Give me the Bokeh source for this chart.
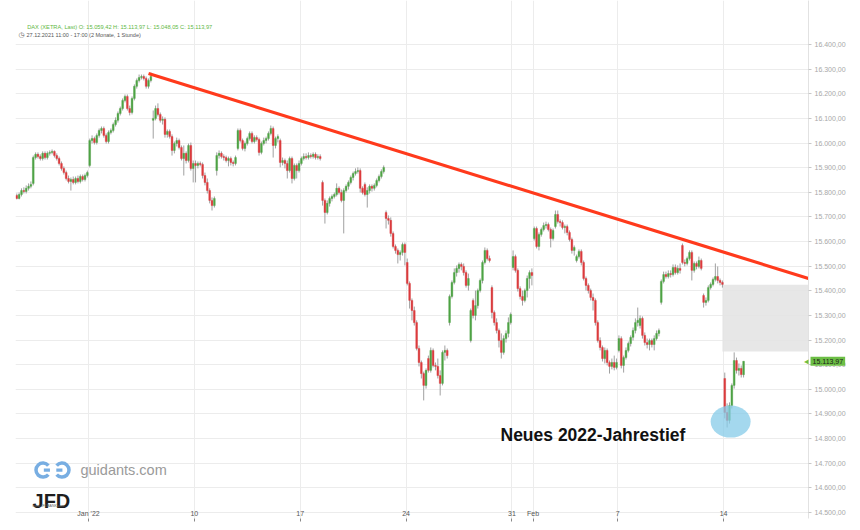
import numpy as np
from bokeh.plotting import figure
from bokeh.models import ColumnDataSource, Range1d, FixedTicker, Label
from bokeh.embed import file_html
from bokeh.resources import INLINE

# ---------------- data ----------------
trading_days = ["2021-12-27", "2021-12-28", "2021-12-29", "2021-12-30",
                "2022-01-03", "2022-01-04", "2022-01-05", "2022-01-06", "2022-01-07",
                "2022-01-10", "2022-01-11", "2022-01-12", "2022-01-13", "2022-01-14",
                "2022-01-17", "2022-01-18", "2022-01-19", "2022-01-20", "2022-01-21",
                "2022-01-24", "2022-01-25", "2022-01-26", "2022-01-27", "2022-01-28",
                "2022-01-31", "2022-02-01", "2022-02-02", "2022-02-03", "2022-02-04",
                "2022-02-07", "2022-02-08", "2022-02-09", "2022-02-10", "2022-02-11",
                "2022-02-14"]
candles_per_day = [7, 9, 9, 6] + [9] * 31

opens = [
    15787, 15775, 15791, 15807, 15803, 15816, 15824,
    15836, 15941, 15954, 15945, 15937, 15958, 15941, 15958, 15962,
    15966, 15949, 15937, 15917, 15897, 15880, 15856, 15844, 15852,
    15840, 15856, 15844, 15864, 15852, 15868,
    15909, 16010, 16018, 16002, 16031, 16051, 16059, 16031, 16006,
    16043, 16051, 16075, 16092, 16120, 16140, 16173, 16189, 16140,
    16124, 16181, 16230, 16254, 16266, 16270, 16262, 16230, 16254,
    16092, 16100, 16140, 16116, 16092, 16096, 16035, 16047, 16026,
    15970, 15998, 16010, 15982, 15937, 15958, 15929, 15990, 15897,
    15917, 15909, 15917, 15913, 15868, 15840, 15807, 15767, 15746,
    15888, 15949, 15958, 15945, 15941, 15929, 15937, 15921, 15917,
    15978, 16051, 16010, 15978, 15998, 16018, 16039, 16006, 16022,
    16014, 15962, 15998, 16010, 16018, 16039, 16059, 15990, 16018,
    16010, 15921, 15929, 15917, 15888, 15937, 15856, 15909, 15888,
    15917, 15937, 15945, 15941, 15949, 15945, 15954, 15941, 15945,
    15840, 15767, 15718, 15755, 15775, 15783, 15791, 15816, 15799,
    15767, 15807, 15824, 15840, 15860, 15876, 15884, 15888, 15816,
    15832, 15791, 15807, 15824, 15816, 15828, 15848, 15864, 15884,
    15718, 15694, 15686, 15633, 15580, 15564, 15547, 15556, 15588,
    15515, 15430, 15361, 15320, 15271, 15166, 15109, 15064, 15016,
    15125, 15077, 15158, 15097, 15093, 15056, 15024, 15150, 15158,
    15271, 15377, 15434, 15474, 15491, 15507, 15499, 15474, 15422,
    15198, 15361, 15300, 15340, 15401, 15442, 15515, 15564, 15531,
    15413, 15312, 15271, 15239, 15198, 15150, 15206, 15227, 15271,
    15495, 15539, 15483, 15409, 15377, 15361, 15401, 15450, 15474,
    15612, 15653, 15580, 15629, 15649, 15665, 15669, 15649, 15612,
    15661, 15710, 15681, 15677, 15657, 15661, 15637, 15608, 15564,
    15523, 15539, 15560, 15515, 15450, 15422, 15401, 15373, 15361,
    15271, 15198, 15170, 15125, 15158, 15109, 15093, 15109, 15089,
    15158, 15206, 15097, 15129, 15158, 15186, 15211, 15239, 15271,
    15259, 15288, 15219, 15190, 15182, 15198, 15182, 15206, 15227,
    15353, 15438, 15466, 15458, 15470, 15466, 15495, 15474, 15491,
    15584, 15515, 15511, 15531, 15556, 15483, 15511, 15499, 15523,
    15381, 15353, 15361, 15413, 15426, 15446, 15458, 15442, 15434,
    15044, 14906, 14874, 14934, 15016, 15117, 15077, 15085, 15059.42,
]
highs = [
    15795, 15799, 15816, 15820, 15828, 15836, 15844,
    15949, 15962, 15962, 15954, 15966, 15966, 15966, 15970, 15974,
    15970, 15958, 15945, 15925, 15905, 15888, 15868, 15860, 15864,
    15864, 15868, 15872, 15872, 15876, 15888,
    16018, 16031, 16026, 16039, 16059, 16067, 16067, 16039, 16051,
    16059, 16083, 16104, 16128, 16148, 16181, 16197, 16197, 16152,
    16189, 16238, 16262, 16278, 16278, 16278, 16270, 16262, 16286,
    16132, 16152, 16161, 16124, 16108, 16104, 16055, 16055, 16035,
    16006, 16022, 16018, 15990, 15990, 15966, 15998, 16002, 15929,
    15929, 15925, 15925, 15921, 15880, 15856, 15816, 15779, 15783,
    15962, 15970, 15966, 15954, 15949, 15945, 15945, 15929, 15949,
    16059, 16059, 16018, 16006, 16026, 16047, 16047, 16031, 16031,
    16022, 16006, 16022, 16026, 16047, 16071, 16067, 16026, 16035,
    16018, 15941, 15937, 15929, 15945, 15945, 15917, 15917, 15929,
    15945, 15958, 15958, 15962, 15958, 15962, 15962, 15954, 15954,
    15848, 15775, 15767, 15783, 15791, 15799, 15836, 15824, 15811,
    15816, 15832, 15848, 15868, 15884, 15897, 15901, 15897, 15824,
    15840, 15820, 15832, 15832, 15836, 15856, 15872, 15893, 15909,
    15726, 15706, 15698, 15641, 15588, 15572, 15564, 15596, 15596,
    15531, 15438, 15369, 15336, 15280, 15178, 15117, 15072, 15085,
    15137, 15170, 15166, 15109, 15125, 15077, 15158, 15178, 15166,
    15385, 15442, 15491, 15503, 15515, 15515, 15511, 15483, 15470,
    15328, 15369, 15401, 15409, 15450, 15523, 15576, 15572, 15543,
    15422, 15320, 15288, 15247, 15227, 15219, 15239, 15292, 15312,
    15564, 15547, 15491, 15418, 15401, 15409, 15462, 15483, 15491,
    15661, 15661, 15637, 15657, 15677, 15681, 15677, 15657, 15653,
    15726, 15726, 15690, 15686, 15669, 15669, 15645, 15616, 15584,
    15547, 15568, 15568, 15523, 15458, 15430, 15409, 15389, 15369,
    15280, 15211, 15178, 15170, 15166, 15117, 15125, 15137, 15125,
    15219, 15215, 15137, 15170, 15194, 15219, 15251, 15288, 15332,
    15300, 15296, 15231, 15206, 15206, 15206, 15219, 15239, 15247,
    15446, 15478, 15478, 15483, 15483, 15507, 15507, 15503, 15511,
    15592, 15527, 15539, 15564, 15564, 15519, 15519, 15539, 15531,
    15389, 15373, 15422, 15434, 15454, 15511, 15499, 15450, 15442,
    15068, 14943, 14947, 15024, 15150, 15129, 15105, 15097, 15113.97,
]
lows = [
    15771, 15771, 15783, 15795, 15795, 15807, 15816,
    15828, 15933, 15937, 15929, 15929, 15933, 15933, 15949, 15954,
    15941, 15929, 15909, 15888, 15872, 15848, 15836, 15807, 15832,
    15832, 15836, 15836, 15844, 15844, 15860,
    15901, 15998, 15994, 15994, 16022, 16039, 16022, 15998, 15998,
    16035, 16043, 16067, 16083, 16112, 16132, 16165, 16132, 16112,
    16116, 16173, 16221, 16246, 16258, 16254, 16221, 16221, 16246,
    16018, 16092, 16108, 16083, 16075, 16022, 16022, 16018, 15949,
    15958, 15986, 15974, 15929, 15868, 15917, 15921, 15888, 15840,
    15840, 15897, 15905, 15856, 15828, 15795, 15755, 15726, 15738,
    15868, 15937, 15937, 15929, 15921, 15905, 15909, 15905, 15909,
    15970, 16002, 15970, 15966, 15990, 16010, 15998, 15998, 16006,
    15949, 15954, 15990, 15998, 16010, 16031, 15941, 15978, 16002,
    15901, 15909, 15897, 15856, 15880, 15836, 15848, 15856, 15880,
    15909, 15929, 15933, 15933, 15937, 15937, 15933, 15933, 15929,
    15746, 15673, 15710, 15742, 15763, 15775, 15783, 15791, 15759,
    15633, 15799, 15811, 15832, 15848, 15868, 15876, 15799, 15791,
    15783, 15738, 15795, 15803, 15807, 15820, 15840, 15856, 15876,
    15653, 15669, 15620, 15572, 15551, 15511, 15523, 15543, 15503,
    15422, 15328, 15280, 15259, 15158, 15093, 15044, 14955, 15003,
    15068, 15068, 15089, 15077, 15044, 14975, 15016, 15117, 15125,
    15259, 15369, 15426, 15458, 15474, 15483, 15462, 15413, 15401,
    15190, 15288, 15280, 15328, 15393, 15430, 15507, 15523, 15515,
    15288, 15259, 15227, 15170, 15125, 15141, 15190, 15211, 15263,
    15483, 15474, 15397, 15365, 15340, 15353, 15373, 15409, 15422,
    15604, 15572, 15564, 15620, 15641, 15653, 15641, 15576, 15604,
    15653, 15673, 15661, 15649, 15633, 15625, 15600, 15551, 15543,
    15515, 15531, 15503, 15442, 15401, 15389, 15361, 15320, 15259,
    15190, 15158, 15113, 15105, 15097, 15064, 15081, 15077, 15081,
    15150, 15085, 15068, 15121, 15150, 15174, 15198, 15227, 15255,
    15247, 15206, 15178, 15166, 15158, 15170, 15158, 15198, 15215,
    15344, 15430, 15450, 15450, 15454, 15458, 15466, 15466, 15470,
    15507, 15499, 15503, 15523, 15442, 15474, 15487, 15491, 15483,
    15332, 15340, 15353, 15405, 15418, 15438, 15430, 15422, 15413,
    14882, 14845, 14861, 14922, 15003, 15064, 15056, 15048, 15048.05,
]
closes = [
    15775, 15791, 15807, 15803, 15816, 15824, 15832,
    15941, 15954, 15945, 15937, 15958, 15941, 15958, 15962, 15966,
    15949, 15937, 15917, 15897, 15880, 15856, 15844, 15852, 15840,
    15856, 15844, 15864, 15852, 15868, 15880,
    16010, 16018, 16002, 16031, 16051, 16059, 16031, 16006, 16043,
    16051, 16075, 16092, 16120, 16140, 16173, 16189, 16140, 16124,
    16181, 16230, 16254, 16266, 16270, 16262, 16230, 16254, 16270,
    16100, 16140, 16116, 16092, 16096, 16035, 16047, 16026, 15970,
    15998, 16010, 15982, 15937, 15958, 15929, 15990, 15897, 15917,
    15909, 15917, 15913, 15868, 15840, 15807, 15767, 15746, 15775,
    15949, 15958, 15945, 15941, 15929, 15937, 15921, 15917, 15941,
    16051, 16010, 15978, 15998, 16018, 16039, 16006, 16022, 16014,
    15962, 15998, 16010, 16018, 16039, 16059, 15990, 16018, 16026,
    15921, 15929, 15917, 15888, 15937, 15856, 15909, 15888, 15917,
    15937, 15945, 15941, 15949, 15945, 15954, 15941, 15945, 15937,
    15767, 15718, 15755, 15775, 15783, 15791, 15816, 15799, 15767,
    15807, 15824, 15840, 15860, 15876, 15884, 15888, 15816, 15799,
    15791, 15807, 15824, 15816, 15828, 15848, 15864, 15884, 15901,
    15694, 15686, 15633, 15580, 15564, 15547, 15556, 15588, 15556,
    15430, 15361, 15320, 15271, 15166, 15109, 15064, 15016, 15077,
    15077, 15158, 15097, 15093, 15056, 15024, 15150, 15158, 15137,
    15377, 15434, 15474, 15491, 15507, 15499, 15474, 15422, 15450,
    15320, 15300, 15340, 15401, 15442, 15515, 15564, 15531, 15523,
    15312, 15271, 15239, 15198, 15150, 15206, 15227, 15271, 15304,
    15539, 15483, 15409, 15377, 15361, 15401, 15450, 15474, 15462,
    15653, 15580, 15629, 15649, 15665, 15669, 15649, 15612, 15645,
    15710, 15681, 15677, 15657, 15661, 15637, 15608, 15564, 15576,
    15539, 15560, 15515, 15450, 15422, 15401, 15373, 15361, 15271,
    15198, 15170, 15125, 15158, 15109, 15093, 15109, 15089, 15109,
    15206, 15097, 15129, 15158, 15186, 15211, 15239, 15271, 15280,
    15288, 15219, 15190, 15182, 15198, 15182, 15206, 15227, 15239,
    15438, 15466, 15458, 15470, 15466, 15495, 15474, 15491, 15483,
    15515, 15511, 15531, 15556, 15483, 15511, 15499, 15523, 15491,
    15353, 15361, 15413, 15426, 15446, 15458, 15442, 15434, 15426,
    14906, 14874, 14934, 15016, 15117, 15077, 15085, 15060, 15113.97,
]

x_tick_days = ["2022-01-03", "2022-01-10", "2022-01-17", "2022-01-24",
               "2022-01-31", "2022-02-01", "2022-02-07", "2022-02-14"]
x_tick_labels = ["Jan '22", "10", "17", "24", "31", "Feb", "7", "14"]

y_ticks = [14500, 14600, 14700, 14800, 14900, 15000, 15100, 15200, 15300, 15400,
           15500, 15600, 15700, 15800, 15900, 16000, 16100, 16200, 16300, 16400]
y_tick_labels = ["14.500,00", "14.600,00", "14.700,00", "14.800,00", "14.900,00",
                 "15.000,00", "15.100,00", "15.200,00", "15.300,00", "15.400,00",
                 "15.500,00", "15.600,00", "15.700,00", "15.800,00", "15.900,00",
                 "16.000,00", "16.100,00", "16.200,00", "16.300,00", "16.400,00"]

trend_prices = [16282, 15450]      # resistance line: Jan 5 high -> right edge
gap_zone = [15154, 15425]          # open gap of Feb 14
low_marker_price = 14869           # new yearly low marker
last_price = 15113.97
last_price_text = "15.113,97"

# ---------------- layout helpers ----------------
n = len(closes)
starts = np.cumsum([0] + candles_per_day[:-1])
day_start = {d: int(s) for d, s in zip(trading_days, starts)}
x_ticks = [day_start[d] for d in x_tick_days]

X0, X1 = -0.05, 337.1
Y0, Y1 = 14475.6, 16578.6
FONT = "Liberation Sans"
FRAME_H = 518

xs = np.arange(n) + 0.5
o = np.array(opens, dtype=float)
c = np.array(closes, dtype=float)
up = c >= o
src = ColumnDataSource(dict(
    x=xs, high=highs, low=lows,
    top=np.maximum(o, c), bottom=np.minimum(o, c),
    color=np.where(up, "#4ea345", "#dc3b3d"),
))

p = figure(frame_width=793, frame_height=FRAME_H,
           x_range=Range1d(X0, X1), y_range=Range1d(Y0, Y1),
           y_axis_location="right", output_backend="svg", toolbar_location=None,
           min_border_left=15, min_border_right=52, min_border_top=0, min_border_bottom=12)
p.outline_line_color = None
p.background_fill_color = "white"
p.border_fill_color = "white"

# grids
p.xgrid.ticker = FixedTicker(ticks=x_ticks)
p.ygrid.ticker = FixedTicker(ticks=y_ticks)
p.xgrid.grid_line_color = "#ececec"
p.ygrid.grid_line_color = "#ececec"

# y axis (right)
ya = p.yaxis[0]
ya.ticker = FixedTicker(ticks=y_ticks)
ya.major_label_overrides = {t: l for t, l in zip(y_ticks, y_tick_labels)}
ya.major_label_text_font = FONT
ya.major_label_text_font_size = "7px"
ya.major_label_text_color = "#a8a8a8"
ya.major_tick_out = 3
ya.major_tick_in = 0
ya.minor_tick_line_color = None
ya.major_tick_line_color = "#c8c8c8"
ya.axis_line_color = "#e2e2e2"
ya.major_label_standoff = 3

# x axis (labels sit on the lowest grid line)
xa = p.xaxis[0]
xa.ticker = FixedTicker(ticks=x_ticks)
xa.major_label_overrides = {t: l for t, l in zip(x_ticks, x_tick_labels)}
xa.major_label_text_font = FONT
xa.major_label_text_font_size = "7px"
xa.major_label_text_color = "#555555"
xa.axis_line_color = None
xa.major_tick_out = 3
xa.major_tick_in = 0
xa.major_tick_line_color = "#888888"
xa.minor_tick_line_color = None
xa.major_label_standoff = -12

# gap zone
gap_left = day_start["2022-02-11"] + candles_per_day[-2] - 0.5
p.quad(left=gap_left, right=X1, bottom=gap_zone[0], top=gap_zone[1],
       fill_color="#e4e4e4", fill_alpha=0.9, line_color=None)

# candles
p.segment(x0="x", y0="low", x1="x", y1="high", source=src, line_color="#a0a0a0", line_width=1)
p.vbar(x="x", width=0.75, top="top", bottom="bottom", source=src,
       fill_color="color", line_color="color", line_width=0.4)

# trend line from Jan 5 high
peak_idx = day_start["2022-01-05"] + 7 + 0.5
p.line([peak_idx, X1], trend_prices, line_color="#ff3a1c", line_width=3.2)

# yearly low marker
low_idx = day_start["2022-02-14"] + 3
p.ellipse(x=[low_idx], y=[low_marker_price], width=17.0, height=130,
          fill_color="#86cbe8", fill_alpha=0.75, line_color=None)

p.add_layout(Label(x=206.15, y=14814.5, text="Neues 2022-Jahrestief",
                   text_font=FONT, text_font_size="17.5px", text_font_style="bold",
                   text_color="#111111", text_baseline="alphabetic", text_align="left"))

# header
p.add_layout(Label(x=4.9, y=16470, text="DAX (XETRA, Last) O: 15.059,42 H: 15.113,97 L: 15.048,05 C: 15.113,97",
                   text_font=FONT, text_font_size="5.7px", text_color="#62b845",
                   text_baseline="middle", text_align="left"))
p.add_layout(Label(x=1.2, y=16439, text="◷",
                   text_font="DejaVu Sans", text_font_size="7px", text_color="#555555",
                   text_baseline="middle", text_align="left"))
p.add_layout(Label(x=4.63, y=16439, text="27.12.2021 11:00 - 17:00  (2 Monate, 1 Stunde)",
                   text_font=FONT, text_font_size="5.5px", text_color="#555555",
                   text_baseline="middle", text_align="left"))

# last price tag: pointer inside frame, box placed in the right side panel (not clipped)
p.add_layout(Label(x=335.2, y=last_price, text="◀", text_font="DejaVu Sans",
                   text_font_size="8px", text_color="#6cbe45",
                   text_baseline="middle", text_align="left"))
p.add_layout(Label(x=337.96, y=last_price,
                   text=last_price_text, text_font=FONT,
                   text_font_size="7px", text_color="#1a1a1a",
                   background_fill_color="#6cbe45", padding=2,
                   text_baseline="middle", text_align="left"), "right")

# watermark logo
blue = "#78aee2"
p.arc(x=[11.64], y=[14672.4], radius=7, radius_units="screen",
      start_angle=0.7, end_angle=2 * np.pi - 0.7, line_color=blue, line_width=3.5)
p.arc(x=[19.72], y=[14672.4], radius=7, radius_units="screen",
      start_angle=-np.pi + 0.7, end_angle=np.pi - 0.7, line_color=blue, line_width=3.5)
p.segment(x0=[12.0, 17.3], y0=[14672.4, 14672.4], x1=[14.6, 19.9], y1=[14672.4, 14672.4],
          line_color=blue, line_width=3.2)
p.add_layout(Label(x=27.58, y=14672.4, text="guidants.com", text_font=FONT,
                   text_font_size="14.5px", text_color="#9a9a9a",
                   text_baseline="middle", text_align="left"))
p.add_layout(Label(x=7.18, y=14548.6, text="JFD", text_font=FONT,
                   text_font_size="20px", text_font_style="bold", text_color="#1e1e1e",
                   text_baseline="alphabetic", text_align="left"))
p.add_layout(Label(x=7.18, y=14528.3, text="www.JFDBANK.com", text_font=FONT,
                   text_font_size="3.5px", text_color="#666666",
                   text_baseline="middle", text_align="left"))

open("out.html", "w").write(file_html(p, INLINE))
